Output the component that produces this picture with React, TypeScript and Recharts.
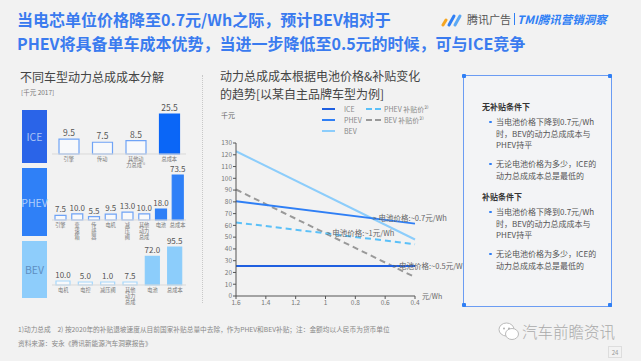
import React from 'react';
import { BarChart, Bar, XAxis, YAxis, Cell, LabelList, LineChart, Line, ReferenceDot } from 'recharts';

// ---------- data ----------
const iceCategories = ['引擎', '传动', '其他动\n力总成¹⁾', '总成本'];
const iceValues = [9.5, 7.5, 8.5, 25.5];
const phevCategories = ['引擎', '变\n速\n箱', '传\n感\n器', '电机', '减\n压\n阀', '其他\n动力\n总成', '电池', '总成本'];
const phevValues = [7.5, 10.0, 5.5, 9.5, 13.0, 10.0, 18.0, 73.5];
const bevCategories = ['电机', '电控', '减压阀', '其他\n动力\n总成', '电池', '总成本'];
const bevValues = [10.0, 5.0, 1.0, 7.5, 72.0, 95.5];

const batteryPrices = [1.6, 0.4];
const iceCost = [25.5, 25.5];
const phevCost = [80.5, 61.5];
const bevCost = [123, 48];
const phevSubsidyCost = [62.5, 44];
const bevSubsidyCost = [90.5, 16];
const priceTicks = [1.6, 1.4, 1.2, 1, 0.8, 0.6, 0.4];
const costTicks = [0, 10, 20, 30, 40, 50, 60, 70, 80, 90, 100, 110, 120, 130];

const annotations = [
  { x: 0.69, y: 66, text: '> 电池价格:~0.7元/Wh' },
  { x: 1.0, y: 53, text: '> 电池价格:~1元/Wh' },
  { x: 0.553, y: 25.5, text: '> 电池价格:~0.5元/Wh' },
];

const FONT = '"Noto Sans CJK SC", "Noto Sans", sans-serif';

const MultiTick = (props: any) => {
  const { x, y, payload } = props;
  const lines = String(payload.value).split('\n');
  return (
    <text x={x} y={y} textAnchor="middle" fontSize={5.2} fill="#777" fontFamily={FONT}>
      {lines.map((l, i) => (
        <tspan key={i} x={x} dy={i === 0 ? 5.5 : 6.4}>{l}</tspan>
      ))}
    </text>
  );
};

type RowProps = {
  cats: string[];
  vals: number[];
  top: number;
  plotH: number;
  barSize: number;
  nFilled: number;
  fillColor: string;
  strokeColor: string;
  labelSize: number;
};

const CostRow = ({ cats, vals, top, plotH, barSize, nFilled, fillColor, strokeColor, labelSize }: RowProps) => {
  const data = cats.map((c, i) => ({ c, v: vals[i] }));
  const mt = 15;
  const axisH = 22;
  return (
    <div style={{ position: 'absolute', left: 40, top }}>
      <BarChart width={156} height={mt + plotH + axisH} data={data} margin={{ top: mt, right: 10, bottom: 0, left: 12 }} barCategoryGap={0}>
        <XAxis dataKey="c" interval={0} tickSize={0} tickMargin={1} height={axisH} axisLine={{ stroke: '#d9d9d9' }} tick={<MultiTick />} />
        <YAxis hide domain={[0, 'dataMax']} />
        <Bar dataKey="v" barSize={barSize} isAnimationActive={false} minPointSize={3}>
          {data.map((d, i) => {
            const filled = i >= data.length - nFilled;
            return (
              <Cell key={i} fill={filled ? fillColor : '#f8f9fb'} stroke={filled ? fillColor : strokeColor} strokeWidth={1.2} />
            );
          })}
          <LabelList dataKey="v" position="top" offset={3} fontSize={labelSize} fill="#555" fontFamily={FONT} formatter={(v: any) => Number(v).toFixed(1)} />
        </Bar>
      </BarChart>
    </div>
  );
};

const abs = (left: number, top: number, extra: React.CSSProperties = {}): React.CSSProperties => ({
  position: 'absolute', left, top, whiteSpace: 'nowrap', ...extra,
});

export default function App() {
  const lineData = batteryPrices.map((p, i) => ({
    p,
    ice: iceCost[i],
    phev: phevCost[i],
    bev: bevCost[i],
    phevSub: phevSubsidyCost[i],
    bevSub: bevSubsidyCost[i],
  }));

  const bullet = (lines: string[], top: number) => (
    <div style={abs(489, top, { fontSize: 8, color: '#555', lineHeight: '11.7px' })}>
      <div style={abs(0, 4.5, { width: 2.5, height: 2.5, borderRadius: 2, background: '#2f7ff5' })} />
      <div style={{ marginLeft: 7 }}>
        {lines.map((l, i) => <div key={i}>{l}</div>)}
      </div>
    </div>
  );

  return (
    <div style={{ position: 'absolute', left: 0, top: 0, width: 641, height: 361, background: '#f2f2f2', fontFamily: FONT, overflow: 'hidden' }}>
      {/* Title */}
      <div style={abs(17, 8, { fontSize: 16, fontWeight: 700, color: '#3a7bef', lineHeight: '23.5px' })}>
        <div>当电芯单位价格降至0.7元/Wh之际，预计BEV相对于</div>
        <div>PHEV将具备单车成本优势，当进一步降低至0.5元的时候，可与ICE竞争</div>
      </div>
      {/* Logo */}
      <svg style={abs(441, 12)} width={22} height={16}>
        <line x1={2} y1={13} x2={5} y2={8} stroke="#f5a623" strokeWidth={3} strokeLinecap="round" />
        <line x1={8} y1={13} x2={13} y2={4} stroke="#2f7ff5" strokeWidth={3} strokeLinecap="round" />
        <line x1={14} y1={13} x2={19} y2={4} stroke="#5aa8f5" strokeWidth={3} strokeLinecap="round" />
      </svg>
      <div style={abs(467, 11, { fontSize: 11, color: '#555', lineHeight: '16px' })}>腾讯广告</div>
      <div style={abs(514, 13, { width: 1, height: 12, background: '#2f7ff5' })} />
      <div style={abs(517, 11, { fontSize: 11.5, color: '#2f7ff5', fontWeight: 700, fontStyle: 'italic', lineHeight: '16px' })}>TMI腾讯营销洞察</div>

      {/* Left panel */}
      <div style={abs(20, 68, { fontSize: 12, color: '#444', lineHeight: '18px' })}>不同车型动力总成成本分解</div>
      <div style={abs(21, 88, { fontSize: 6.5, color: '#777', lineHeight: '9px' })}>[千元 2017]</div>

      <div style={abs(22, 110, { width: 25, height: 53, background: '#2a64e8', color: '#a8c2f6', fontSize: 10.5, display: 'flex', alignItems: 'center', justifyContent: 'center' })}>ICE</div>
      <div style={abs(22, 168, { width: 25, height: 68, background: '#2f80f7', color: '#b0cffb', fontSize: 10.5, display: 'flex', alignItems: 'center', justifyContent: 'center' })}>PHEV</div>
      <div style={abs(22, 241, { width: 25, height: 57, background: '#8ecdfb', color: '#5f8fc2', fontSize: 10.5, display: 'flex', alignItems: 'center', justifyContent: 'center' })}>BEV</div>

      <CostRow cats={iceCategories} vals={iceValues} top={99} plotH={40} barSize={20} nFilled={1} fillColor="#0a66f7" strokeColor="#6fa3f6" labelSize={8.5} />
      <CostRow cats={phevCategories} vals={phevValues} top={160} plotH={45} barSize={11} nFilled={2} fillColor="#2f80f7" strokeColor="#6fa3f6" labelSize={8} />
      <CostRow cats={bevCategories} vals={bevValues} top={232} plotH={38} barSize={14} nFilled={2} fillColor="#8ccdfb" strokeColor="#a6d7fb" labelSize={8} />

      <div style={abs(202, 75, { height: 228, borderLeft: '1px dotted #c8c8c8' })} />

      {/* Middle panel */}
      <div style={abs(220, 67, { fontSize: 12, color: '#444', lineHeight: '17.5px' })}>
        <div>动力总成成本根据电池价格&amp;补贴变化</div>
        <div>的趋势[以某自主品牌车型为例]</div>
      </div>
      <svg style={abs(318, 103)} width={120} height={34}>
        <line x1={4} y1={6} x2={17} y2={6} stroke="#1f5fe0" strokeWidth={2} />
        <text x={26} y={8.5} fontSize={7} fill="#888" fontFamily={FONT}>ICE</text>
        <line x1={4} y1={17} x2={17} y2={17} stroke="#2f7ff5" strokeWidth={2} />
        <text x={26} y={19.5} fontSize={7} fill="#888" fontFamily={FONT}>PHEV</text>
        <line x1={4} y1={28} x2={17} y2={28} stroke="#8ccdfb" strokeWidth={2} />
        <text x={26} y={30.5} fontSize={7} fill="#888" fontFamily={FONT}>BEV</text>
        <line x1={48} y1={6} x2={63} y2={6} stroke="#5bc0f8" strokeWidth={2} strokeDasharray="6 3" />
        <text x={66} y={8.5} fontSize={7} fill="#888" fontFamily={FONT}>PHEV 补贴价²⁾</text>
        <line x1={48} y1={17} x2={63} y2={17} stroke="#999" strokeWidth={2} strokeDasharray="6 3" />
        <text x={66} y={19.5} fontSize={7} fill="#888" fontFamily={FONT}>BEV 补贴价²⁾</text>
      </svg>
      <div style={abs(221, 110, { fontSize: 7, color: '#666', lineHeight: '10px' })}>千元</div>

      <div style={abs(200, 135)}>
        <LineChart width={290} height={175} data={lineData} margin={{ top: 8, right: 75, bottom: 2, left: 16 }}>
          <XAxis dataKey="p" type="number" domain={[0.4, 1.6]} reversed ticks={priceTicks} interval={0} height={12}
            tick={{ fontSize: 6.5, fill: '#777', fontFamily: FONT }} tickSize={3} tickMargin={1}
            axisLine={{ stroke: '#555' }} tickLine={{ stroke: '#555' }} />
          <YAxis type="number" domain={[0, 130]} ticks={costTicks} interval={0} width={20}
            tick={{ fontSize: 6.5, fill: '#777', fontFamily: FONT }} tickSize={3} tickMargin={1}
            axisLine={{ stroke: '#555' }} tickLine={{ stroke: '#555' }} />
          <Line dataKey="bev" stroke="#8ccdfb" strokeWidth={2} dot={false} isAnimationActive={false} />
          <Line dataKey="bevSub" stroke="#999" strokeWidth={2} strokeDasharray="6 4" dot={false} isAnimationActive={false} />
          <Line dataKey="phevSub" stroke="#5bc0f8" strokeWidth={2} strokeDasharray="6 4" dot={false} isAnimationActive={false} />
          <Line dataKey="phev" stroke="#2f7ff5" strokeWidth={2} dot={false} isAnimationActive={false} />
          <Line dataKey="ice" stroke="#1f5fe0" strokeWidth={2} dot={false} isAnimationActive={false} />
          {annotations.map((a, i) => (
            <ReferenceDot key={i} x={a.x} y={a.y} r={0} ifOverflow="visible"
              label={{ value: a.text, position: 'right', offset: 1, fontSize: 7.5, fill: '#666', fontFamily: FONT }} />
          ))}
        </LineChart>
      </div>
      <div style={abs(422, 291, { fontSize: 7, color: '#666', lineHeight: '10px' })}>元/Wh</div>

      {/* Right box */}
      <div style={abs(463, 75, { width: 147, height: 230, border: '1px solid #6b9cf3', background: '#f3f4f6' })} />
      {[[462, 74], [608, 74], [462, 303], [608, 303]].map(([l, t], i) => (
        <div key={i} style={abs(l, t, { width: 4, height: 4, background: '#2f7ff5', borderRadius: 1 })} />
      ))}
      <div style={abs(482, 101, { fontSize: 8, fontWeight: 700, color: '#333', lineHeight: '12px' })}>无补贴条件下</div>
      {bullet(['当电池价格下降到0.7元/Wh', '时，BEV的动力总成成本与', 'PHEV持平'], 116)}
      {bullet(['无论电池价格为多少，ICE的', '动力总成成本总是最低的'], 158)}
      <div style={abs(482, 191, { fontSize: 8, fontWeight: 700, color: '#333', lineHeight: '12px' })}>补贴条件下</div>
      {bullet(['当电池价格下降到0.7元/Wh', '时，BEV的动力总成成本与', 'PHEV持平'], 206)}
      {bullet(['无论电池价格为多少，ICE的', '动力总成成本总是最低的'], 248)}

      {/* Footer */}
      <div style={abs(18, 325, { fontSize: 6.7, color: '#888', lineHeight: '9px' })}>1)动力总成　2) 按2020年的补贴退坡速度从目前国家补贴总量中去除，作为PHEV和BEV补贴；注：金额均以人民币为货币单位</div>
      <div style={abs(18, 339, { fontSize: 6.7, color: '#888', lineHeight: '9px' })}>资料来源：安永《腾讯新能源汽车洞察报告》</div>

      <svg style={abs(498, 322)} width={22} height={19}>
        <ellipse cx={8.5} cy={7.5} rx={7.5} ry={6.5} fill="#fff" stroke="#bbb" strokeWidth={1} />
        <ellipse cx={14} cy={12} rx={6.5} ry={5.5} fill="#fff" stroke="#bbb" strokeWidth={1} />
        <circle cx={6} cy={6.5} r={0.9} fill="#aaa" />
        <circle cx={11} cy={6.5} r={0.9} fill="#aaa" />
      </svg>
      <div style={abs(522, 320, { fontSize: 15.5, color: '#aaa', lineHeight: '22px', fontWeight: 300 })}>汽车前瞻资讯</div>
      <div style={abs(608, 346, { width: 12, height: 10, border: '1px solid #ddd', fontSize: 6, color: '#999', display: 'flex', alignItems: 'center', justifyContent: 'center' })}>24</div>
    </div>
  );
}
